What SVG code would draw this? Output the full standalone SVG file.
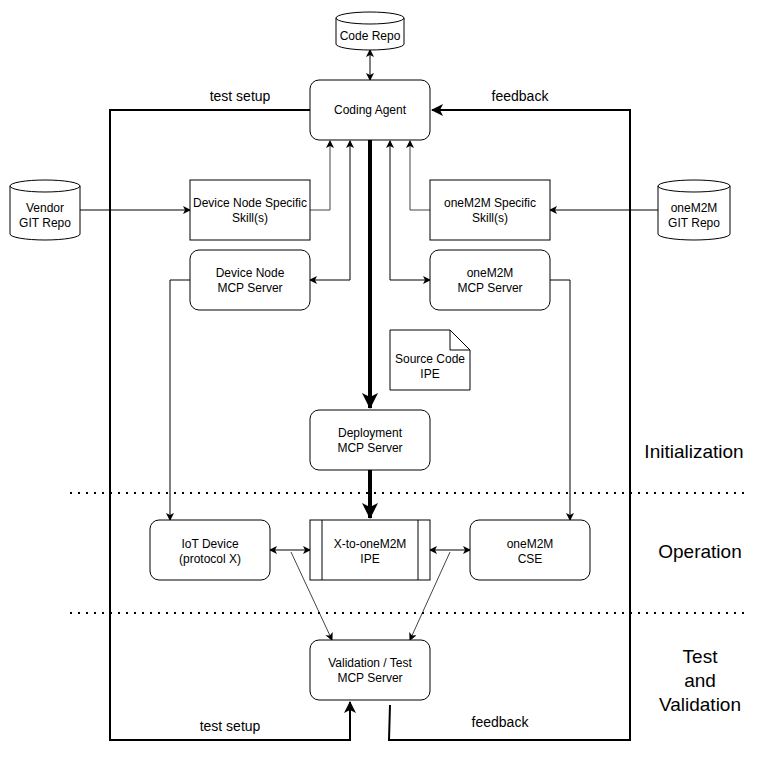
<svg xmlns="http://www.w3.org/2000/svg" width="772" height="760" viewBox="0 0 772 760">
<defs>
<marker id="a" markerWidth="8" markerHeight="8" refX="7" refY="4" orient="auto-start-reverse" markerUnits="userSpaceOnUse"><path d="M0,0 L8,4 L0,8 L2,4 Z" fill="#000"/></marker>
<marker id="b" markerWidth="12" markerHeight="12" refX="11" refY="6" orient="auto" markerUnits="userSpaceOnUse"><path d="M0,0 L12,6 L0,12 L3,6 Z" fill="#000"/></marker>
<marker id="c" markerWidth="16" markerHeight="16" refX="15" refY="8" orient="auto" markerUnits="userSpaceOnUse"><path d="M0,0 L16,8 L0,16 L4,8 Z" fill="#000"/></marker>
</defs>
<style>
text{font-family:"Liberation Sans",Arial,sans-serif;font-size:12px;text-anchor:middle;fill:#000}
.n{fill:#fff;stroke:#000;stroke-width:1}
.l{fill:none;stroke:#000;stroke-width:1}
.g{fill:none;stroke:#444;stroke-width:1}
.t{fill:none;stroke:#000;stroke-width:2}
.big{font-size:19px}
.lab{font-size:14px}
</style>
<rect width="772" height="760" fill="#fff"/>
<g id="connectors">
<polyline class="t" points="310,110 110,110 110,740 350,740 350,702" marker-end="url(#b)"/>
<polyline class="t" points="390,705 389,740 630,740 630,110 432,110" marker-end="url(#b)"/>
<line x1="370" y1="140" x2="370" y2="408" stroke="#000" stroke-width="4" marker-end="url(#c)"/>
<line x1="370" y1="470" x2="370" y2="518" stroke="#000" stroke-width="4" marker-end="url(#c)"/>
<line class="l" x1="370" y1="50" x2="370" y2="80" marker-start="url(#a)" marker-end="url(#a)"/>
<line class="l" x1="80" y1="210" x2="190" y2="210" marker-end="url(#a)"/>
<line class="l" x1="658" y1="210" x2="550" y2="210" marker-end="url(#a)"/>
<polyline class="g" points="310,210 330,210 330,141" marker-end="url(#a)"/>
<polyline class="g" points="430,210 410,210 410,141" marker-end="url(#a)"/>
<polyline class="l" points="310,280 350,280 350,141" marker-start="url(#a)" marker-end="url(#a)"/>
<polyline class="l" points="430,280 390,280 390,141" marker-start="url(#a)" marker-end="url(#a)"/>
<polyline class="l" points="190,280 170,280 170,520" marker-end="url(#a)"/>
<polyline class="l" points="550,280 570,280 570,520" marker-end="url(#a)"/>
<line class="l" x1="270" y1="550" x2="310" y2="550" marker-start="url(#a)" marker-end="url(#a)"/>
<line class="l" x1="430" y1="550" x2="470" y2="550" marker-start="url(#a)" marker-end="url(#a)"/>
<line class="g" x1="291" y1="552" x2="332" y2="640" marker-end="url(#a)"/>
<line class="g" x1="450" y1="552" x2="410" y2="640" marker-end="url(#a)"/>
<line x1="70" y1="493" x2="745" y2="493" stroke="#000" stroke-width="2" stroke-dasharray="2 6"/>
<line x1="70" y1="613" x2="745" y2="613" stroke="#000" stroke-width="2" stroke-dasharray="2 6"/>
</g>
<g id="coderepo"><path class="n" d="M336,18 a34,6 0 0 1 68,0 v26 a34,6 0 0 1 -68,0 Z"/><path class="l" d="M336,18 a34,6 0 0 0 68,0"/><text x="370" y="40">Code Repo</text></g>
<g id="codingagent"><rect class="n" x="310" y="80" width="120" height="60" rx="9"/><text x="370" y="114">Coding Agent</text></g>
<g id="vendor"><path class="n" d="M10,186 a35,6 0 0 1 70,0 v48 a35,6 0 0 1 -70,0 Z"/><path class="l" d="M10,186 a35,6 0 0 0 70,0"/><text x="45" y="212">Vendor</text><text x="45" y="227">GIT Repo</text></g>
<g id="onem2mgit"><path class="n" d="M658,186 a36,6 0 0 1 72,0 v48 a36,6 0 0 1 -72,0 Z"/><path class="l" d="M658,186 a36,6 0 0 0 72,0"/><text x="694" y="212">oneM2M</text><text x="694" y="227">GIT Repo</text></g>
<g id="devskill"><rect class="n" x="190" y="180" width="120" height="60"/><text x="250" y="207">Device Node Specific</text><text x="250" y="222">Skill(s)</text></g>
<g id="m2mskill"><rect class="n" x="430" y="180" width="120" height="60"/><text x="490" y="207">oneM2M Specific</text><text x="490" y="222">Skill(s)</text></g>
<g id="devmcp"><rect class="n" x="190" y="250" width="120" height="60" rx="9"/><text x="250" y="277">Device Node</text><text x="250" y="292">MCP Server</text></g>
<g id="m2mmcp"><rect class="n" x="430" y="250" width="120" height="60" rx="9"/><text x="490" y="277">oneM2M</text><text x="490" y="292">MCP Server</text></g>
<g id="source"><path class="n" d="M390,330 h60 l20,20 v40 h-80 Z"/><path class="l" d="M450,330 v20 h20"/><text x="430" y="363">Source Code</text><text x="430" y="378">IPE</text></g>
<g id="deploy"><rect class="n" x="310" y="410" width="120" height="60" rx="9"/><text x="370" y="437">Deployment</text><text x="370" y="452">MCP Server</text></g>
<g id="iot"><rect class="n" x="150" y="520" width="120" height="60" rx="9"/><text x="210" y="548">IoT Device</text><text x="210" y="563">(protocol X)</text></g>
<g id="ipe"><rect class="n" x="310" y="520" width="120" height="60"/><line class="l" x1="322" y1="520" x2="322" y2="580"/><line class="l" x1="418" y1="520" x2="418" y2="580"/><text x="370" y="548">X-to-oneM2M</text><text x="370" y="563">IPE</text></g>
<g id="cse"><rect class="n" x="470" y="520" width="120" height="60" rx="9"/><text x="530" y="548">oneM2M</text><text x="530" y="563">CSE</text></g>
<g id="validation"><rect class="n" x="310" y="640" width="120" height="60" rx="9"/><text x="370" y="667">Validation / Test</text><text x="370" y="682">MCP Server</text></g>
<g id="labels">
<text class="lab" x="240" y="101">test setup</text>
<text class="lab" x="520" y="101">feedback</text>
<text class="lab" x="230" y="731">test setup</text>
<text class="lab" x="500" y="727">feedback</text>
<text class="big" x="694" y="458">Initialization</text>
<text class="big" x="700" y="558">Operation</text>
<text class="big" x="700" y="663">Test</text>
<text class="big" x="700" y="687">and</text>
<text class="big" x="700" y="711">Validation</text>
</g>
</svg>
